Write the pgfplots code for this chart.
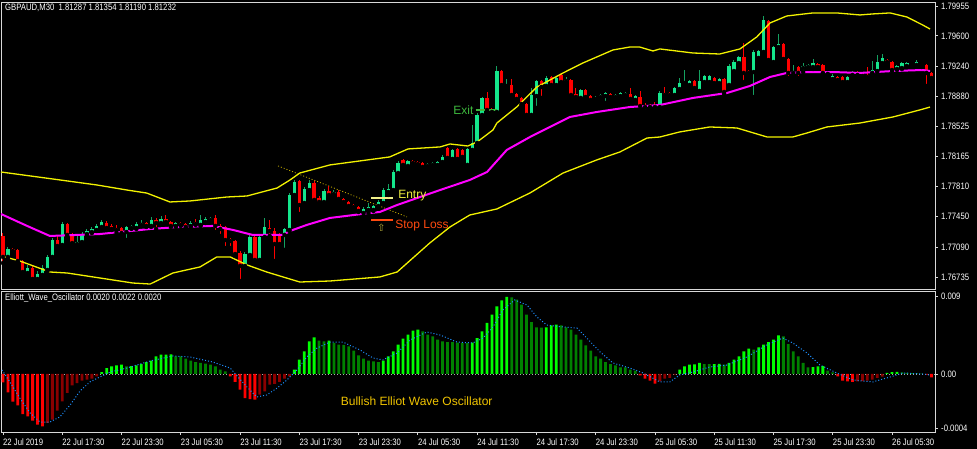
\documentclass[border=0pt]{standalone}
\usepackage{pgfplots}
\pgfplotsset{compat=1.18}
\usepackage{pgfplotstable}
\usepackage{fontspec}
\setmainfont{Liberation Sans}
\newfontfamily\mtfont[FakeStretch=0.83]{Liberation Sans}
\newfontfamily\symfont{DejaVu Sans}
\newcommand\mtsize{\mtfont\fontsize{9.3}{11}\selectfont}

\definecolor{bull}{HTML}{14E68C}
\definecolor{bullwick}{HTML}{15A060}
\definecolor{bear}{HTML}{FF0000}
\definecolor{band}{HTML}{F2F200}
\definecolor{midband}{HTML}{FF00FF}
\definecolor{oscG}{HTML}{00FF00}
\definecolor{oscDG}{HTML}{008000}
\definecolor{oscR}{HTML}{FF0000}
\definecolor{oscDR}{HTML}{8B0000}
\definecolor{sig}{HTML}{1E90FF}
\definecolor{frame}{HTML}{D8D8D8}
\definecolor{exitc}{HTML}{3DB83D}
\definecolor{entryc}{HTML}{F0F040}
\definecolor{entryl}{HTML}{F0F08A}
\definecolor{stopc}{HTML}{FF4A10}
\definecolor{trendc}{HTML}{C8B000}
\definecolor{arrowc}{HTML}{B0A838}
\definecolor{goldc}{HTML}{F0C400}

% GBPAUD M30 candles: bar index, open, high, low, close
\pgfplotstableread{
i o h l c
0 1.77222 1.77257 1.76901 1.76973
1 1.76973 1.77091 1.76961 1.77067
2 1.77067 1.77079 1.77032 1.77044
3 1.77056 1.77067 1.76913 1.76925
4 1.76925 1.76937 1.76770 1.76794
5 1.76782 1.76878 1.76747 1.76842
6 1.76842 1.76866 1.76675 1.76711
7 1.76711 1.76806 1.76687 1.76770
8 1.76759 1.76878 1.76747 1.76842
9 1.76818 1.76996 1.76806 1.76973
10 1.76973 1.77198 1.76961 1.77174
11 1.77174 1.77234 1.77079 1.77103
12 1.77115 1.77388 1.77103 1.77364
13 1.77364 1.77376 1.77222 1.77234
14 1.77234 1.77257 1.77126 1.77138
15 1.77126 1.77234 1.77115 1.77150
16 1.77150 1.77269 1.77138 1.77245
17 1.77245 1.77305 1.77234 1.77281
18 1.77269 1.77329 1.77257 1.77305
19 1.77293 1.77364 1.77281 1.77341
20 1.77329 1.77412 1.77317 1.77388
21 1.77376 1.77400 1.77305 1.77317
22 1.77341 1.77364 1.77293 1.77305
23 1.77317 1.77353 1.77257 1.77293
24 1.77317 1.77329 1.77245 1.77257
25 1.77269 1.77341 1.77174 1.77329
26 1.77317 1.77353 1.77305 1.77341
27 1.77317 1.77388 1.77305 1.77364
28 1.77353 1.77412 1.77341 1.77376
29 1.77376 1.77388 1.77329 1.77341
30 1.77341 1.77448 1.77329 1.77412
31 1.77412 1.77436 1.77305 1.77376
32 1.77376 1.77460 1.77364 1.77424
33 1.77424 1.77471 1.77376 1.77388
34 1.77388 1.77400 1.77329 1.77341
35 1.77341 1.77388 1.77329 1.77376
36 1.77376 1.77388 1.77341 1.77353
37 1.77364 1.77376 1.77317 1.77329
38 1.77341 1.77400 1.77329 1.77376
39 1.77388 1.77424 1.77353 1.77364
40 1.77353 1.77471 1.77341 1.77412
41 1.77388 1.77448 1.77376 1.77424
42 1.77412 1.77448 1.77400 1.77436
43 1.77436 1.77471 1.77269 1.77341
44 1.77341 1.77364 1.77222 1.77305
45 1.77329 1.77341 1.77079 1.77174
46 1.77186 1.77198 1.77079 1.77162
47 1.77162 1.77174 1.76985 1.77008
48 1.77020 1.77044 1.76687 1.76866
49 1.76866 1.77032 1.76854 1.77008
50 1.76996 1.77234 1.76985 1.77210
51 1.77210 1.77222 1.76925 1.76937
52 1.76937 1.77234 1.76925 1.77210
53 1.77210 1.77436 1.77198 1.77329
54 1.77317 1.77412 1.77222 1.77281
55 1.77281 1.77317 1.76925 1.77126
56 1.77234 1.77257 1.77103 1.77126
57 1.77234 1.77317 1.77056 1.77305
58 1.77293 1.77732 1.77281 1.77709
59 1.77709 1.77887 1.77697 1.77863
60 1.77875 1.77887 1.77483 1.77590
61 1.77614 1.77804 1.77590 1.77780
62 1.77768 1.77887 1.77756 1.77851
63 1.77851 1.77875 1.77626 1.77650
64 1.77673 1.77697 1.77590 1.77626
65 1.77626 1.77780 1.77614 1.77756
66 1.77756 1.77816 1.77685 1.77709
67 1.77721 1.77768 1.77697 1.77744
68 1.77744 1.77768 1.77650 1.77662
69 1.77662 1.77673 1.77614 1.77626
70 1.77626 1.77638 1.77566 1.77578
71 1.77590 1.77602 1.77543 1.77566
72 1.77566 1.77578 1.77507 1.77519
73 1.77495 1.77566 1.77460 1.77543
74 1.77531 1.77614 1.77495 1.77566
75 1.77531 1.77590 1.77519 1.77578
76 1.77578 1.77650 1.77566 1.77626
77 1.77614 1.77792 1.77602 1.77768
78 1.77744 1.77840 1.77709 1.77780
79 1.77768 1.78006 1.77756 1.77982
80 1.77970 1.78113 1.77958 1.78089
81 1.78125 1.78137 1.78054 1.78066
82 1.78054 1.78125 1.78042 1.78113
83 1.78113 1.78125 1.78077 1.78089
84 1.78101 1.78113 1.78066 1.78077
85 1.78089 1.78101 1.78030 1.78042
86 1.78054 1.78089 1.78042 1.78077
87 1.78066 1.78101 1.78054 1.78089
88 1.78066 1.78113 1.78054 1.78101
89 1.78101 1.78184 1.78089 1.78161
90 1.78268 1.78280 1.78137 1.78149
91 1.78137 1.78256 1.78125 1.78244
92 1.78256 1.78268 1.78089 1.78137
93 1.78244 1.78256 1.78149 1.78161
94 1.78066 1.78268 1.78030 1.78256
95 1.78244 1.78541 1.78232 1.78327
96 1.78327 1.78683 1.78315 1.78660
97 1.78660 1.78873 1.78648 1.78862
98 1.78862 1.78933 1.78707 1.78719
99 1.78719 1.78743 1.78683 1.78695
100 1.78695 1.79242 1.78683 1.79182
101 1.79182 1.79194 1.79004 1.79016
102 1.79004 1.79087 1.78992 1.79016
103 1.79016 1.79087 1.78885 1.78897
104 1.78909 1.78921 1.78838 1.78850
105 1.78862 1.78873 1.78778 1.78790
106 1.78790 1.78802 1.78648 1.78660
107 1.78660 1.78980 1.78648 1.78897
108 1.78885 1.79075 1.78743 1.79063
109 1.79063 1.79075 1.78862 1.78992
110 1.79004 1.79123 1.78968 1.79099
111 1.79111 1.79123 1.79004 1.79016
112 1.79016 1.79123 1.78992 1.79099
113 1.79135 1.79147 1.79039 1.79051
114 1.79063 1.79111 1.79039 1.79075
115 1.79075 1.79087 1.78885 1.78897
116 1.78909 1.78980 1.78838 1.78873
117 1.78862 1.78968 1.78850 1.78957
118 1.78957 1.78968 1.78862 1.78873
119 1.78885 1.78897 1.78826 1.78838
120 1.78850 1.78885 1.78802 1.78862
121 1.78873 1.78909 1.78838 1.78897
122 1.78885 1.78933 1.78802 1.78921
123 1.78909 1.78921 1.78862 1.78873
124 1.78873 1.78909 1.78862 1.78897
125 1.78885 1.78933 1.78873 1.78921
126 1.78897 1.78933 1.78862 1.78921
127 1.78909 1.78980 1.78838 1.78850
128 1.78838 1.78897 1.78826 1.78885
129 1.78873 1.78945 1.78719 1.78766
130 1.78778 1.78802 1.78707 1.78754
131 1.78778 1.78790 1.78743 1.78754
132 1.78778 1.78814 1.78743 1.78754
133 1.78754 1.78945 1.78743 1.78921
134 1.78921 1.78992 1.78873 1.78897
135 1.78921 1.78933 1.78885 1.78897
136 1.78897 1.78992 1.78885 1.78980
137 1.78968 1.79099 1.78957 1.79039
138 1.79039 1.79194 1.79027 1.79051
139 1.79016 1.79075 1.79004 1.79063
140 1.79063 1.79075 1.78933 1.78980
141 1.78945 1.79194 1.78933 1.79063
142 1.79051 1.79135 1.79039 1.79123
143 1.79051 1.79135 1.79016 1.79123
144 1.79099 1.79111 1.79027 1.79039
145 1.79039 1.79099 1.79027 1.79087
146 1.79087 1.79099 1.78909 1.78933
147 1.79016 1.79266 1.79004 1.79242
148 1.79182 1.79313 1.79170 1.79289
149 1.79277 1.79361 1.79266 1.79349
150 1.79349 1.79515 1.79051 1.79159
151 1.79182 1.79194 1.79147 1.79159
152 1.79170 1.79432 1.78873 1.79408
153 1.79337 1.79432 1.79325 1.79420
154 1.79408 1.79836 1.79396 1.79788
155 1.79776 1.79788 1.79277 1.79313
156 1.79289 1.79479 1.79277 1.79467
157 1.79467 1.79622 1.79432 1.79503
158 1.79503 1.79515 1.79313 1.79325
159 1.79325 1.79337 1.79099 1.79159
160 1.79159 1.79254 1.79111 1.79182
161 1.79230 1.79242 1.79099 1.79159
162 1.79218 1.79277 1.79170 1.79242
163 1.79230 1.79266 1.79218 1.79254
164 1.79230 1.79325 1.79206 1.79277
165 1.79266 1.79277 1.79218 1.79230
166 1.79254 1.79266 1.79147 1.79159
167 1.79159 1.79170 1.79135 1.79147
168 1.79087 1.79147 1.79075 1.79123
169 1.79111 1.79123 1.79063 1.79075
170 1.79111 1.79123 1.79039 1.79051
171 1.79051 1.79123 1.79039 1.79111
172 1.79135 1.79182 1.79123 1.79170
173 1.79170 1.79182 1.79123 1.79135
174 1.79159 1.79170 1.79111 1.79123
175 1.79135 1.79230 1.79075 1.79111
176 1.79159 1.79301 1.79147 1.79194
177 1.79182 1.79373 1.79170 1.79289
178 1.79277 1.79384 1.79266 1.79337
179 1.79313 1.79325 1.79277 1.79289
180 1.79289 1.79301 1.79182 1.79194
181 1.79206 1.79254 1.79194 1.79242
182 1.79218 1.79289 1.79206 1.79277
183 1.79242 1.79289 1.79230 1.79277
184 1.79277 1.79289 1.79254 1.79266
185 1.79254 1.79313 1.79242 1.79289
186 1.79254 1.79266 1.79230 1.79242
187 1.79254 1.79266 1.79004 1.79159
188 1.79159 1.79170 1.79051 1.79099
}\candles

% Elliott wave oscillator: bar index, value, colour class
% k: 0 rising green, 1 falling green, 2 falling red, 3 rising red
\pgfplotstableread{
i v k
0 -0.00096 2
1 -0.00211 2
2 -0.00320 2
3 -0.00361 2
4 -0.00462 2
5 -0.00488 2
6 -0.00539 2
7 -0.00585 2
8 -0.00604 2
9 -0.00565 3
10 -0.00527 3
11 -0.00424 3
12 -0.00315 3
13 -0.00219 3
14 -0.00130 3
15 -0.00104 3
16 -0.00077 3
17 -0.00066 3
18 -0.00054 3
19 -0.00027 3
20 0.00023 0
21 0.00069 0
22 0.00089 0
23 0.00100 0
24 0.00107 0
25 0.00089 1
26 0.00092 0
27 0.00100 0
28 0.00115 0
29 0.00138 0
30 0.00153 0
31 0.00204 0
32 0.00223 0
33 0.00225 0
34 0.00227 0
35 0.00204 1
36 0.00202 1
37 0.00177 1
38 0.00153 1
39 0.00138 1
40 0.00127 1
41 0.00119 1
42 0.00107 1
43 0.00089 1
44 0.00050 1
45 0.00031 1
46 -0.00027 2
47 -0.00092 2
48 -0.00181 2
49 -0.00277 2
50 -0.00289 2
51 -0.00297 2
52 -0.00239 3
53 -0.00200 3
54 -0.00123 3
55 -0.00115 3
56 -0.00092 3
57 -0.00054 3
58 -0.00027 3
59 0.00050 0
60 0.00165 0
61 0.00262 0
62 0.00377 0
63 0.00424 0
64 0.00384 1
65 0.00377 1
66 0.00384 0
67 0.00358 1
68 0.00338 1
69 0.00335 1
70 0.00320 1
71 0.00269 1
72 0.00216 1
73 0.00177 1
74 0.00153 1
75 0.00147 1
76 0.00138 1
77 0.00153 0
78 0.00204 0
79 0.00262 0
80 0.00338 0
81 0.00407 0
82 0.00454 0
83 0.00500 0
84 0.00511 0
85 0.00493 1
86 0.00454 1
87 0.00435 1
88 0.00396 1
89 0.00377 1
90 0.00369 1
91 0.00367 1
92 0.00361 1
93 0.00358 1
94 0.00355 1
95 0.00361 0
96 0.00415 0
97 0.00493 0
98 0.00589 0
99 0.00684 0
100 0.00781 0
101 0.00850 0
102 0.00889 0
103 0.00885 1
104 0.00857 1
105 0.00800 1
106 0.00684 1
107 0.00600 1
108 0.00539 1
109 0.00534 1
110 0.00539 0
111 0.00562 0
112 0.00569 0
113 0.00562 1
114 0.00539 1
115 0.00511 1
116 0.00454 1
117 0.00396 1
118 0.00331 1
119 0.00269 1
120 0.00204 1
121 0.00177 1
122 0.00138 1
123 0.00115 1
124 0.00100 1
125 0.00077 1
126 0.00075 1
127 0.00050 1
128 0.00038 1
129 -0.00015 2
130 -0.00054 2
131 -0.00077 2
132 -0.00112 2
133 -0.00084 3
134 -0.00054 3
135 -0.00046 3
136 -0.00008 3
137 0.00050 0
138 0.00089 0
139 0.00107 0
140 0.00110 0
141 0.00127 0
142 0.00115 1
143 0.00113 1
144 0.00115 0
145 0.00118 0
146 0.00107 1
147 0.00127 0
148 0.00165 0
149 0.00204 0
150 0.00262 0
151 0.00292 0
152 0.00280 1
153 0.00308 0
154 0.00338 0
155 0.00369 0
156 0.00396 0
157 0.00447 0
158 0.00435 1
159 0.00346 1
160 0.00262 1
161 0.00204 1
162 0.00127 1
163 0.00077 1
164 0.00078 0
165 0.00089 0
166 0.00090 0
167 0.00038 1
168 0.00020 1
169 -0.00027 2
170 -0.00077 2
171 -0.00084 2
172 -0.00092 2
173 -0.00084 3
174 -0.00083 3
175 -0.00077 3
176 -0.00066 3
177 -0.00046 3
178 -0.00031 3
179 0.00012 0
180 0.00023 0
181 0.00024 0
182 0.00020 1
183 0.00012 1
184 0.00010 1
185 0.00008 1
186 0.00003 1
187 -0.00008 2
188 -0.00038 2
}\osc

\pgfplotsset{
  mtpanel/.style={
    scale only axis, width=934pt, anchor=south west,
    xmin=-0.4, xmax=188.7,
    axis line style={draw=frame, line width=0.9pt},
    tick align=outside, major tick length=3pt,
    tick style={draw=frame, line width=0.8pt},
    ytick pos=right, yticklabel pos=right,
    scaled y ticks=false, scaled x ticks=false,
    yticklabel style={font=\mtsize, text=white, anchor=west, inner sep=0pt, xshift=3pt},
    clip=true,
  },
  wick/.style={only marks, mark=none,
    error bars/y dir=plus, error bars/y explicit, error bars/error mark=none,
    error bars/error bar style={draw=#1, line width=1pt, solid}},
  body/.style={only marks, mark=none,
    error bars/y dir=plus, error bars/y explicit, error bars/error mark=none,
    error bars/error bar style={draw=#1, line width=3.3pt, solid}},
  histo/.style={ybar, bar width=2.8pt, bar shift=0pt, fill=#1, draw=none},
}

\begin{document}
\begin{tikzpicture}[x=1pt, y=1pt]
\fill[black] (0pt,0pt) rectangle (977pt,449pt);

% price panel
\begin{axis}[mtpanel, at={(1pt,160pt)}, height=287pt,
  ymin=1.76592, ymax=1.80002, xtick=\empty,
  ytick={1.76735,1.7709,1.7745,1.7781,1.78165,1.78525,1.7888,1.7924,1.796,1.79955},
  yticklabels={1.76735,1.77090,1.77450,1.77810,1.78165,1.78525,1.78880,1.79240,1.79600,1.79955}]

\draw[trendc, line width=0.8pt, dash pattern=on 1pt off 2pt]
  (axis cs:55.7,1.78054) -- (axis cs:81.8,1.77448);

\addplot[restrict expr to domain={\thisrow{c}-\thisrow{o}}{0:1}, wick=bullwick]
  table[x=i, y=l, y error expr=\thisrow{h}-\thisrow{l}] \candles;
\addplot[restrict expr to domain={\thisrow{o}-\thisrow{c}}{0.000001:1}, wick=bear]
  table[x=i, y=l, y error expr=\thisrow{h}-\thisrow{l}] \candles;
\addplot[restrict expr to domain={\thisrow{c}-\thisrow{o}}{0:1}, body=bull]
  table[x=i, y=o, y error expr=\thisrow{c}-\thisrow{o}] \candles;
\addplot[restrict expr to domain={\thisrow{o}-\thisrow{c}}{0.000001:1}, body=bear]
  table[x=i, y=c, y error expr=\thisrow{o}-\thisrow{c}] \candles;

% Bollinger bands
\addplot[band, line width=1.3pt] coordinates {
(-0.4,1.77982) (10.1,1.77899) (19.0,1.77828) (25.1,1.77768) (29.1,1.77732) (33.8,1.77626)
(37.9,1.77638) (45.3,1.77685) (49.4,1.77697) (55.5,1.77792) (58.1,1.77887) (60.1,1.77970)
(66.2,1.78066) (78.3,1.78161) (82.0,1.78256) (88.5,1.78280) (90.5,1.78315) (94.1,1.78291)
(96.0,1.78339) (99.2,1.78481) (100.0,1.78564) (104.0,1.78754) (108.1,1.78992) (113.4,1.79159)
(117.4,1.79277) (123.5,1.79432) (126.9,1.79467) (128.9,1.79467) (131.6,1.79420) (133.0,1.79444)
(139.7,1.79396) (145.1,1.79384) (149.2,1.79444) (152.6,1.79586) (155.3,1.79753) (158.7,1.79836)
(164.0,1.79872) (168.8,1.79872) (173.5,1.79848) (176.1,1.79860) (179.6,1.79872) (183.0,1.79824)
(186.2,1.79729) (187.7,1.79681)};
\addplot[band, line width=1.3pt] coordinates {
(-0.4,1.76985) (3.4,1.76925) (9.5,1.76794) (13.0,1.76782) (19.6,1.76723) (26.3,1.76663)
(29.8,1.76651) (34.4,1.76782) (39.9,1.76854) (43.3,1.76973) (46.0,1.76973) (49.4,1.76878)
(53.4,1.76794) (56.7,1.76735) (60.1,1.76675) (66.2,1.76687) (76.3,1.76735) (79.8,1.76794)
(86.4,1.77138) (90.5,1.77329) (94.5,1.77471) (100.0,1.77543) (106.7,1.77733) (113.4,1.77970)
(120.2,1.78125) (124.9,1.78220) (130.4,1.78386) (133.0,1.78398) (137.0,1.78458) (143.1,1.78517)
(148.6,1.78505) (154.7,1.78398) (159.9,1.78398) (162.8,1.78446) (166.8,1.78517) (173.5,1.78564)
(180.2,1.78636) (185.6,1.78719) (187.7,1.78754)};
\addplot[midband, line width=2pt] coordinates {
(-0.4,1.77483) (4.9,1.77341) (9.5,1.77222) (19.6,1.77245) (29.8,1.77305) (35.8,1.77329)
(42.5,1.77341) (46.6,1.77293) (50.6,1.77234) (56.7,1.77234) (58.1,1.77281) (61.5,1.77353)
(66.2,1.77436) (74.3,1.77495) (76.3,1.77507) (79.8,1.77590) (88.5,1.77768) (94.5,1.77887)
(98.0,1.77982) (102.0,1.78244) (106.7,1.78398) (114.8,1.78636) (120.2,1.78695) (126.9,1.78754)
(133.0,1.78778) (139.7,1.78862) (146.6,1.78921) (151.2,1.79004) (155.3,1.79111) (158.7,1.79159)
(163.4,1.79170) (168.0,1.79170) (173.5,1.79159) (180.2,1.79182) (186.2,1.79194) (187.7,1.79182)};

% trade annotations
\draw[exitc, line width=1.4pt] (axis cs:95.7,1.78719) -- (axis cs:100,1.78719);
\node[anchor=base east, inner sep=0pt, text=exitc, font=\fontsize{12}{14}\selectfont]
  at (axis cs:95.3,1.78668) {Exit};
\draw[entryl, line width=1.4pt] (axis cs:74.6,1.77673) -- (axis cs:78.9,1.77673);
\node[anchor=base west, inner sep=0pt, text=entryc, font=\fontsize{12}{14}\selectfont]
  at (axis cs:80.0,1.77670) {Entry};
\draw[stopc, line width=1.8pt] (axis cs:74.6,1.77412) -- (axis cs:78.9,1.77412);
\node[anchor=base west, inner sep=0pt, text=stopc, font=\fontsize{12}{14}\selectfont]
  at (axis cs:79.4,1.77313) {Stop Loss};
\node[inner sep=0pt, text=arrowc, font=\symfont\fontsize{10}{11}\selectfont]
  at (axis cs:76.6,1.77317) {⇧};
\end{axis}

% oscillator panel
\begin{axis}[mtpanel, at={(1pt,17pt)}, height=141pt,
  ymin=-0.006693, ymax=0.009578,
  ytick={-0.00623,0,0.009}, yticklabels={-0.0004,0.00,0.009},
  xtick={0,12,...,180}, xtick pos=bottom,
  xticklabels={22 Jul 2019,22 Jul 17:30,22 Jul 23:30,23 Jul 05:30,23 Jul 11:30,23 Jul 17:30,
    23 Jul 23:30,24 Jul 05:30,24 Jul 11:30,24 Jul 17:30,24 Jul 23:30,25 Jul 05:30,
    25 Jul 11:30,25 Jul 17:30,25 Jul 23:30,26 Jul 05:30},
  xticklabel style={font=\mtsize, text=white, anchor=north west, inner sep=0pt, yshift=-4pt}]
\addplot[frame!80!black, line width=0.8pt, dash pattern=on 1pt off 2pt]
  coordinates {(-0.4,0) (188.7,0)};
\addplot[restrict expr to domain={\thisrow{k}}{-0.5:0.5}, histo=oscG] table[x=i, y=v] \osc;
\addplot[restrict expr to domain={\thisrow{k}}{0.5:1.5}, histo=oscDG] table[x=i, y=v] \osc;
\addplot[restrict expr to domain={\thisrow{k}}{1.5:2.5}, histo=oscR] table[x=i, y=v] \osc;
\addplot[restrict expr to domain={\thisrow{k}}{2.5:3.5}, histo=oscDR] table[x=i, y=v] \osc;
\addplot[sig, line width=1pt, dash pattern=on 1pt off 2pt] coordinates {
(-0.2,0.00046) (1.4,-0.00092) (3.4,-0.00277) (5.5,-0.00450) (7.5,-0.00554) (9.5,-0.00554)
(11.5,-0.00496) (13.6,-0.00358) (15.6,-0.00196) (17.6,-0.00092) (19.6,-0.00035) (21.7,0.00023)
(25.1,0.00069) (29.8,0.00150) (34.4,0.00208) (37.9,0.00196) (42.5,0.00138) (46.0,0.00069)
(47.4,-0.00023) (49.4,-0.00150) (51.4,-0.00265) (53.4,-0.00242) (55.5,-0.00162) (57.5,-0.00069)
(59.5,0.00046) (61.5,0.00196) (63.6,0.00300) (66.2,0.00369) (68.8,0.00369) (72.3,0.00277)
(74.9,0.00185) (76.9,0.00162) (79.8,0.00242) (82.4,0.00392) (85.8,0.00485) (88.5,0.00450)
(91.9,0.00369) (95.1,0.00358) (97.2,0.00415) (99.2,0.00542) (101.2,0.00739) (103.6,0.00854)
(106.1,0.00796) (108.1,0.00658) (110.1,0.00565) (113.4,0.00542) (116.2,0.00531) (118.2,0.00415)
(120.9,0.00254) (123.5,0.00127) (126.9,0.00069) (129.6,0.00012) (133.0,-0.00092) (135.0,-0.00092)
(137.0,-0.00012) (139.7,0.00023) (143.1,0.00081) (146.6,0.00104) (150.6,0.00196) (154.7,0.00335)
(157.9,0.00415) (159.9,0.00358) (162.8,0.00242) (165.4,0.00104) (168.8,0.00012) (172.1,-0.00069)
(176.1,-0.00092) (179.6,-0.00035) (182.2,0.00012) (186.2,0.00000) (187.7,-0.00012)};
\end{axis}

% window captions
\node[anchor=base west, inner sep=0pt, text=white, font=\mtsize]
  at (5pt,438.3pt) {GBPAUD,M30\ \ 1.81287 1.81354 1.81190 1.81232};
\node[anchor=base west, inner sep=0pt, text=white, font=\mtsize]
  at (5pt,148.3pt) {Elliott\_Wave\_Oscillator 0.0020 0.0022 0.0020};
\node[anchor=base west, inner sep=0pt, text=goldc, font=\fontsize{12}{14}\selectfont]
  at (340.7pt,43pt) {Bullish Elliot Wave Oscillator};

\pgfresetboundingbox
\path (0pt,0pt) rectangle (977pt,449pt);
\end{tikzpicture}
\end{document}
